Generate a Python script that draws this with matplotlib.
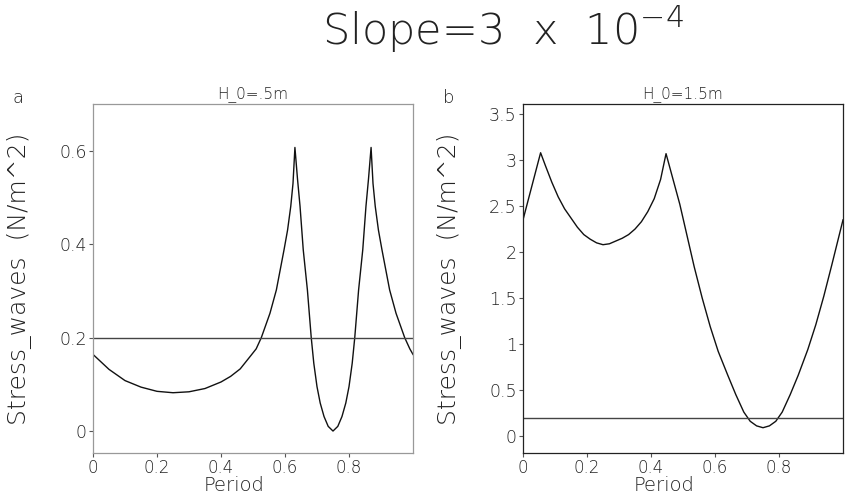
import matplotlib
matplotlib.use("Agg")
import matplotlib.pyplot as plt
from matplotlib.ticker import FuncFormatter

# ---- data ----
period_a = [0.0, 0.05, 0.1, 0.15, 0.2, 0.25, 0.3, 0.35, 0.4, 0.43, 0.46, 0.495, 0.51, 0.526,
            0.553, 0.573, 0.585, 0.597, 0.608, 0.618, 0.625, 0.631, 0.639, 0.647, 0.657,
            0.670, 0.682, 0.69, 0.70, 0.71, 0.722, 0.735, 0.75, 0.765, 0.778, 0.79, 0.80,
            0.81, 0.818, 0.830, 0.843, 0.853, 0.861, 0.869, 0.875, 0.882, 0.892, 0.903,
            0.915, 0.927, 0.947, 0.974, 0.99, 1.0]
stress_a = [0.164, 0.132, 0.108, 0.094, 0.085, 0.082, 0.084, 0.091, 0.105, 0.117, 0.133,
            0.163, 0.176, 0.200, 0.252, 0.302, 0.345, 0.388, 0.430, 0.481, 0.530, 0.607,
            0.540, 0.481, 0.388, 0.302, 0.200, 0.145, 0.095, 0.060, 0.031, 0.010, 0.0,
            0.010, 0.031, 0.060, 0.095, 0.145, 0.200, 0.302, 0.388, 0.481, 0.540, 0.607,
            0.530, 0.481, 0.430, 0.388, 0.345, 0.302, 0.252, 0.200, 0.176, 0.164]

period_b = [0.0, 0.055, 0.07, 0.09, 0.11, 0.13, 0.15, 0.17, 0.19, 0.21, 0.23, 0.25, 0.27,
            0.29, 0.31, 0.33, 0.35, 0.37, 0.39, 0.41, 0.43, 0.447, 0.49, 0.535, 0.56,
            0.585, 0.61, 0.64, 0.665, 0.69, 0.71, 0.73, 0.75, 0.77, 0.79, 0.81, 0.835,
            0.86, 0.89, 0.915, 0.94, 0.965, 1.0]
stress_b = [2.35, 3.08, 2.94, 2.76, 2.60, 2.47, 2.37, 2.27, 2.19, 2.14, 2.10, 2.08, 2.09,
            2.12, 2.15, 2.19, 2.25, 2.33, 2.44, 2.58, 2.79, 3.07, 2.52, 1.84, 1.50, 1.19,
            0.92, 0.66, 0.45, 0.26, 0.16, 0.11, 0.09, 0.11, 0.16, 0.26, 0.45, 0.66, 0.94,
            1.21, 1.52, 1.86, 2.35]

threshold = 0.2
xticks = [0, 0.2, 0.4, 0.6, 0.8]
yticks_a = [0, 0.2, 0.4, 0.6]
yticks_b = [0, 0.5, 1, 1.5, 2, 2.5, 3, 3.5]
titles = ["H_0=.5m", "H_0=1.5m"]
letters = ["a", "b"]
ylabel = "Stress_waves  (N/m^2)"
xlabel = "Period"
suptitle = "Slope=3  x  10$^{-4}$"

plt.rcParams['font.family'] = ['DejaVu Sans']
plt.rcParams['font.weight'] = 'light'
plt.rcParams['axes.labelweight'] = 'light'
plt.rcParams['axes.titleweight'] = 'light'
plt.rcParams['mathtext.fontset'] = 'dejavusans'
W, H = 850, 495
fig = plt.figure(figsize=(W / 100, H / 100), dpi=100)

def fmt(v, pos):
    return "%g" % v

panels = [
    (93, period_a, stress_a, yticks_a, (-0.047, 0.70), "#999999"),
    (523, period_b, stress_b, yticks_b, (-0.185, 3.61), "#222222"),
]
for i, (left_px, xs, ys, yt, ylim, spine_col) in enumerate(panels):
    ax = fig.add_axes([left_px / W, 42 / H, 320 / W, 349 / H])
    ax.plot(xs, ys, color="#111111", lw=1.0)
    ax.axhline(threshold, color="#444444", lw=1.0)
    ax.set_xlim(0, 1.0)
    ax.set_ylim(*ylim)
    ax.set_xticks(xticks)
    ax.set_yticks(yt)
    ax.xaxis.set_major_formatter(FuncFormatter(fmt))
    ax.yaxis.set_major_formatter(FuncFormatter(fmt))
    ax.tick_params(direction="out", length=3, width=0.8, labelsize=12.5, pad=1.5,
                   color="#555555", labelcolor="#222222")
    ax.tick_params(axis="x", labelsize=12, pad=1)
    for s in ax.spines.values():
        s.set_color(spine_col)
        s.set_linewidth(0.9)
    ax.set_title(titles[i], fontsize=11, pad=4, color="#222222")
    ax.set_ylabel(ylabel, fontsize=18, color="#222222")
    ax.yaxis.set_label_coords(-0.19, 0.5)
    ax.set_xlabel(xlabel, fontsize=14, color="#222222")
    ax.xaxis.set_label_coords(0.44, -0.067)
    fig.text((left_px - 80) / W, 1 - 98 / H, letters[i], fontsize=13,
             ha="left", va="center", color="#222222")

fig.text(503 / W, 1 - 30 / H, suptitle, fontsize=31, ha="center", va="center",
         color="#222222")

fig.savefig("out.png", dpi=100)
